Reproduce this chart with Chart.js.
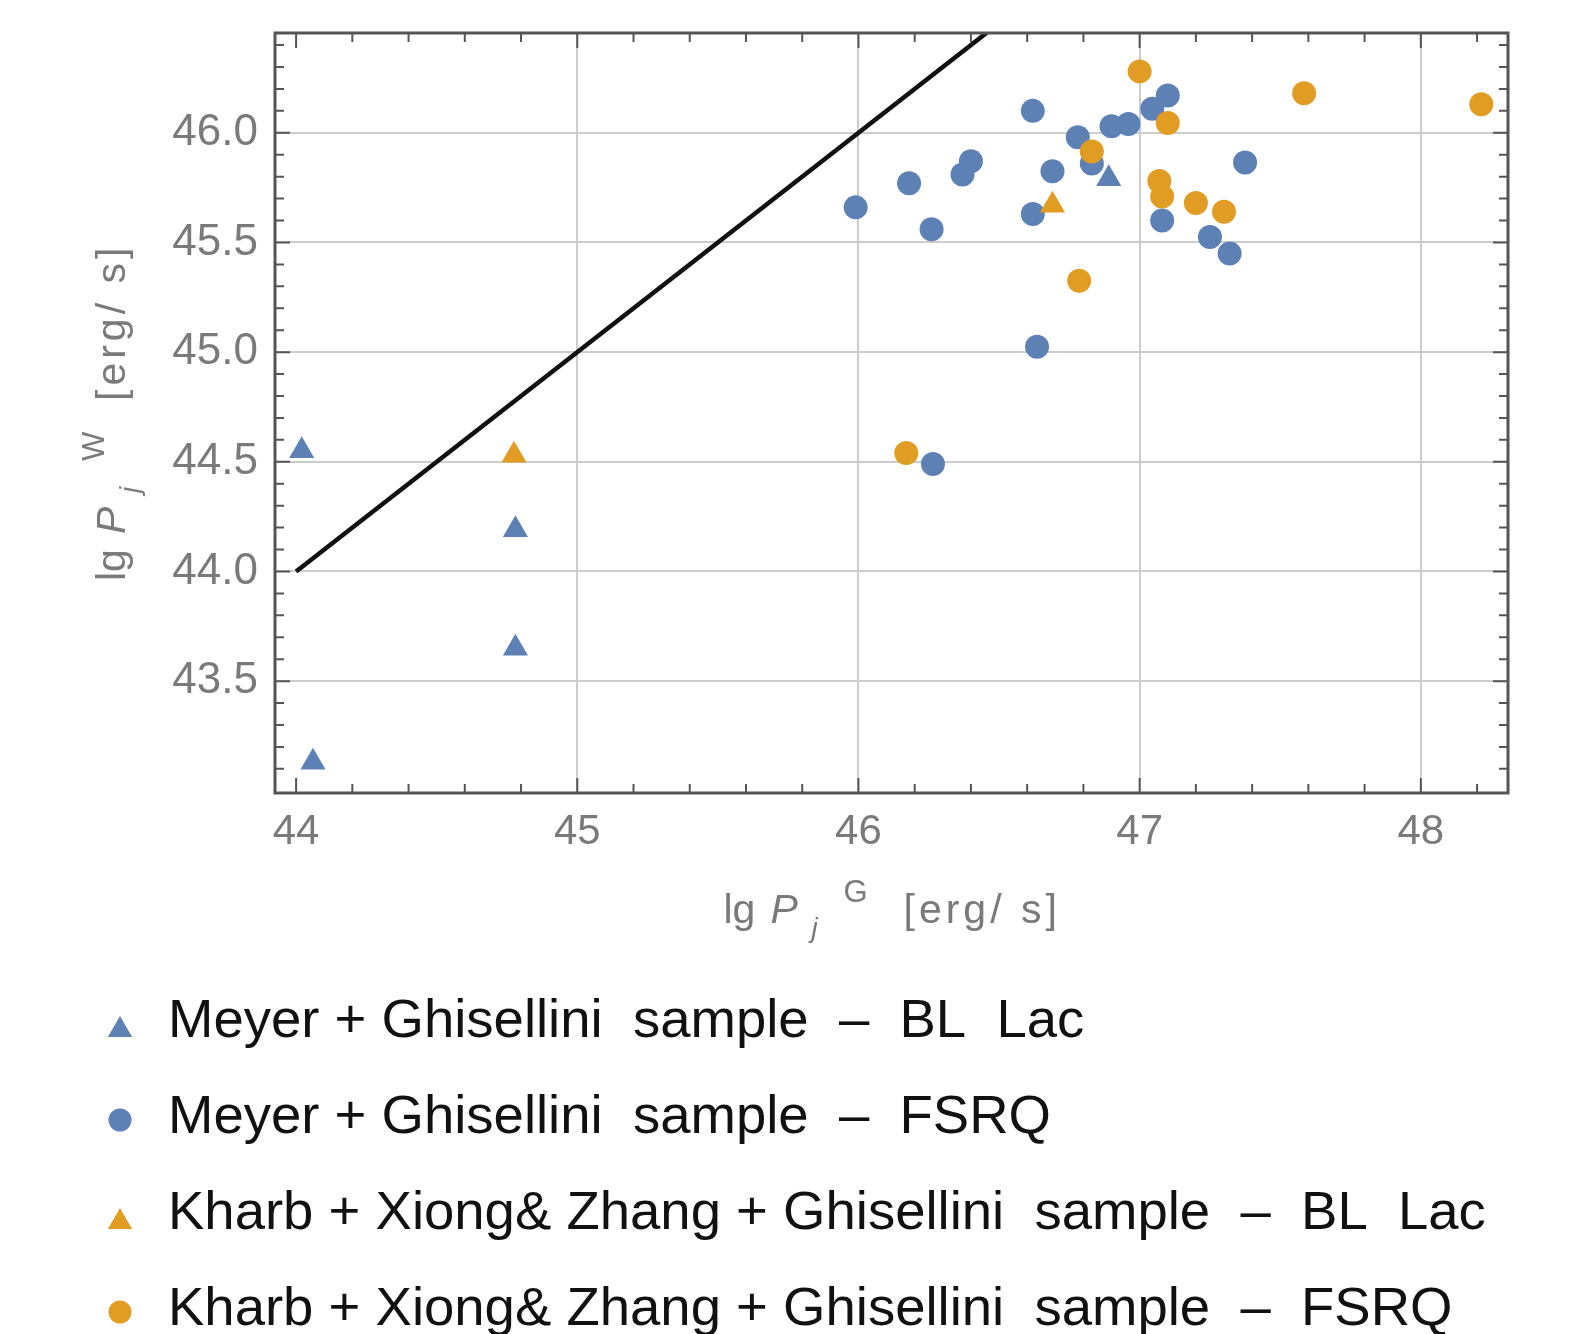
<!DOCTYPE html>
<html>
<head>
<meta charset="utf-8">
<script src="https://cdn.jsdelivr.net/npm/chart.js@4.4.1/dist/chart.umd.min.js"></script>
<style>
  html, body { margin: 0; padding: 0; background: #fff; }
  #wrap { width: 1596px; height: 1334px; position: relative; }
</style>
</head>
<body>
<div id="wrap"><canvas id="chart"></canvas></div>
<script>
// values: x = lg Pj^G, y = lg Pj^W
const mgBlLacX = [44.02, 44.78, 44.78, 44.06, 46.89];
const mgBlLacY = [44.55, 44.19, 43.65, 43.13, 45.79];

const mgFsrqX = [45.99, 46.18, 46.26, 46.37, 46.40, 46.62, 46.62, 46.69, 46.78, 46.83,
                 46.90, 46.96, 47.045, 47.10, 47.08, 47.25, 47.32, 47.375, 46.635, 46.265];
const mgFsrqY = [45.66, 45.77, 45.56, 45.81, 45.87, 46.10, 45.63, 45.825, 45.98, 45.86,
                 46.03, 46.04, 46.11, 46.17, 45.60, 45.525, 45.45, 45.865, 45.025, 44.49];

const kxzBlLacX = [44.775, 46.69];
const kxzBlLacY = [44.53, 45.67];

const kxzFsrqX = [47.0, 47.10, 46.83, 47.07, 47.08, 47.20, 47.30, 46.785, 46.17, 47.585, 48.215];
const kxzFsrqY = [46.28, 46.045, 45.915, 45.78, 45.71, 45.68, 45.64, 45.325, 44.54, 46.18, 46.13];

// equality line lg Pj^W = lg Pj^G
const eqLineX = [44, 46.6];
const eqLineY = [44, 46.6];

const xTicks = [44, 45, 46, 47, 48];
const yTicks = [43.5, 44.0, 44.5, 45.0, 45.5, 46.0];

const legendLabels = [
  'Meyer + Ghisellini  sample  \u2013  BL  Lac',
  'Meyer + Ghisellini  sample  \u2013  FSRQ',
  'Kharb + Xiong& Zhang + Ghisellini  sample  \u2013  BL  Lac',
  'Kharb + Xiong& Zhang + Ghisellini  sample  \u2013  FSRQ'
];

const BLUE = '#5e81b5';
const ORANGE = '#e19c24';
const FONT = '"Liberation Sans", Arial, sans-serif';
const LABEL_GREY = '#7a7a7a';
const FRAME = '#555555';

function pts(xs, ys) {
  return xs.map((x, i) => ({ x: x, y: ys[i] }));
}

// Mathematica-style frame: box with inward ticks on all four sides
const frameTicks = {
  id: 'frameTicks',
  afterDatasetsDraw(chart) {
    const ctx = chart.ctx;
    const a = chart.chartArea;
    const xs = chart.scales.x;
    const ys = chart.scales.y;
    ctx.save();
    ctx.strokeStyle = FRAME;
    ctx.lineWidth = 2;
    ctx.beginPath();
    for (let i = 0; i <= 21; i++) {
      const v = 44 + i * 0.2;
      const px = xs.getPixelForValue(v);
      if (px < a.left || px > a.right) continue;
      const len = i % 5 === 0 ? 15 : 9;
      ctx.moveTo(px, a.bottom); ctx.lineTo(px, a.bottom - len);
      ctx.moveTo(px, a.top); ctx.lineTo(px, a.top + len);
    }
    for (let i = 1; i <= 34; i++) {
      const v = 43.0 + i * 0.1;
      const py = ys.getPixelForValue(v);
      if (py < a.top || py > a.bottom) continue;
      const len = i % 5 === 0 ? 15 : 9;
      ctx.moveTo(a.left, py); ctx.lineTo(a.left + len, py);
      ctx.moveTo(a.right, py); ctx.lineTo(a.right - len, py);
    }
    ctx.stroke();
    ctx.lineWidth = 3;
    ctx.strokeRect(a.left, a.top, a.right - a.left, a.bottom - a.top);
    ctx.restore();
  }
};

// axis titles with sub/superscripts, plus the legend under the plot
function drawAxisTitle(ctx, sup) {
  ctx.fillStyle = LABEL_GREY;
  ctx.textAlign = 'left';
  ctx.textBaseline = 'alphabetic';
  ctx.font = '41px ' + FONT;
  ctx.fillText('lg', -168, 0);
  ctx.font = 'italic 41px ' + FONT;
  ctx.fillText('P', -121, 0);
  ctx.font = 'italic 28px ' + FONT;
  ctx.fillText('j', -80, 14);
  ctx.font = '31px ' + FONT;
  ctx.fillText(sup, -48, -21);
  ctx.font = '41px ' + FONT;
  ctx.letterSpacing = '4px';
  ctx.fillText('[erg/ s]', 12, 0);
  ctx.letterSpacing = '0px';
}

const annotations = {
  id: 'annotations',
  afterDraw(chart) {
    const ctx = chart.ctx;
    const a = chart.chartArea;
    const cx = (a.left + a.right) / 2;
    const cy = (a.top + a.bottom) / 2;

    ctx.save();
    ctx.translate(cx, 923);
    drawAxisTitle(ctx, 'G');
    ctx.restore();

    ctx.save();
    ctx.translate(125, cy);
    ctx.rotate(-Math.PI / 2);
    drawAxisTitle(ctx, 'W');
    ctx.restore();

    const markers = [
      { style: 'triangle', color: BLUE, r: 14, dy: -7 },
      { style: 'circle', color: BLUE, r: 11.5, dy: -13 },
      { style: 'triangle', color: ORANGE, r: 14, dy: -7 },
      { style: 'circle', color: ORANGE, r: 11.5, dy: -13 }
    ];
    const baseY = 1037, rowGap = 96;
    ctx.save();
    legendLabels.forEach((label, i) => {
      const y = baseY + i * rowGap;
      ctx.fillStyle = markers[i].color;
      Chart.helpers.drawPoint(ctx, {
        pointStyle: markers[i].style, radius: markers[i].r, rotation: 0, borderWidth: 0
      }, 120, y + markers[i].dy);
      ctx.fillStyle = '#111111';
      ctx.font = '54.5px ' + FONT;
      ctx.textAlign = 'left';
      ctx.textBaseline = 'alphabetic';
      ctx.fillText(label, 168, y);
    });
    ctx.restore();
  }
};

new Chart(document.getElementById('chart'), {
  type: 'scatter',
  data: {
    datasets: [
      {
        label: legendLabels[3],
        data: pts(kxzFsrqX, kxzFsrqY),
        pointStyle: 'circle', pointRadius: 12, pointHoverRadius: 12,
        backgroundColor: ORANGE, borderWidth: 0, order: 1
      },
      {
        label: legendLabels[2],
        data: pts(kxzBlLacX, kxzBlLacY),
        pointStyle: 'triangle', pointRadius: 14.5, pointHoverRadius: 14.5,
        backgroundColor: ORANGE, borderWidth: 0, order: 2
      },
      {
        label: legendLabels[1],
        data: pts(mgFsrqX, mgFsrqY),
        pointStyle: 'circle', pointRadius: 12, pointHoverRadius: 12,
        backgroundColor: BLUE, borderWidth: 0, order: 3
      },
      {
        label: legendLabels[0],
        data: pts(mgBlLacX, mgBlLacY),
        pointStyle: 'triangle', pointRadius: 14.5, pointHoverRadius: 14.5,
        backgroundColor: BLUE, borderWidth: 0, order: 4
      },
      {
        label: 'equality',
        data: pts(eqLineX, eqLineY),
        showLine: true, pointRadius: 0, pointHoverRadius: 0,
        borderColor: '#111111', borderWidth: 4.5, order: 5
      }
    ]
  },
  options: {
    responsive: true,
    maintainAspectRatio: false,
    animation: false,
    layout: { padding: { left: 0, right: 88, top: 33, bottom: 0 } },
    plugins: {
      legend: { display: false },
      tooltip: { enabled: false }
    },
    scales: {
      x: {
        type: 'linear',
        min: 43.925,
        max: 48.31,
        afterBuildTicks: (scale) => { scale.ticks = xTicks.map(v => ({ value: v })); },
        afterFit: (scale) => {
          scale.height = 541;
          scale.paddingLeft = 0; scale.paddingRight = 0;
        },
        border: { display: false },
        grid: {
          drawTicks: false,
          lineWidth: 2,
          color: (c) => (c.tick && c.tick.value === 44) ? 'rgba(0,0,0,0)' : '#cccccc'
        },
        ticks: {
          padding: 14,
          color: LABEL_GREY,
          font: { size: 42, family: FONT },
          callback: (v) => String(v)
        }
      },
      y: {
        type: 'linear',
        min: 42.99,
        max: 46.455,
        afterBuildTicks: (scale) => { scale.ticks = yTicks.map(v => ({ value: v })); },
        afterFit: (scale) => {
          scale.width = 275;
          scale.paddingTop = 0; scale.paddingBottom = 0;
        },
        border: { display: false },
        grid: { drawTicks: false, lineWidth: 2, color: '#cccccc' },
        ticks: {
          padding: 17,
          color: LABEL_GREY,
          font: { size: 44, family: FONT },
          callback: (v) => v.toFixed(1)
        }
      }
    }
  },
  plugins: [frameTicks, annotations]
});
</script>
</body>
</html>
